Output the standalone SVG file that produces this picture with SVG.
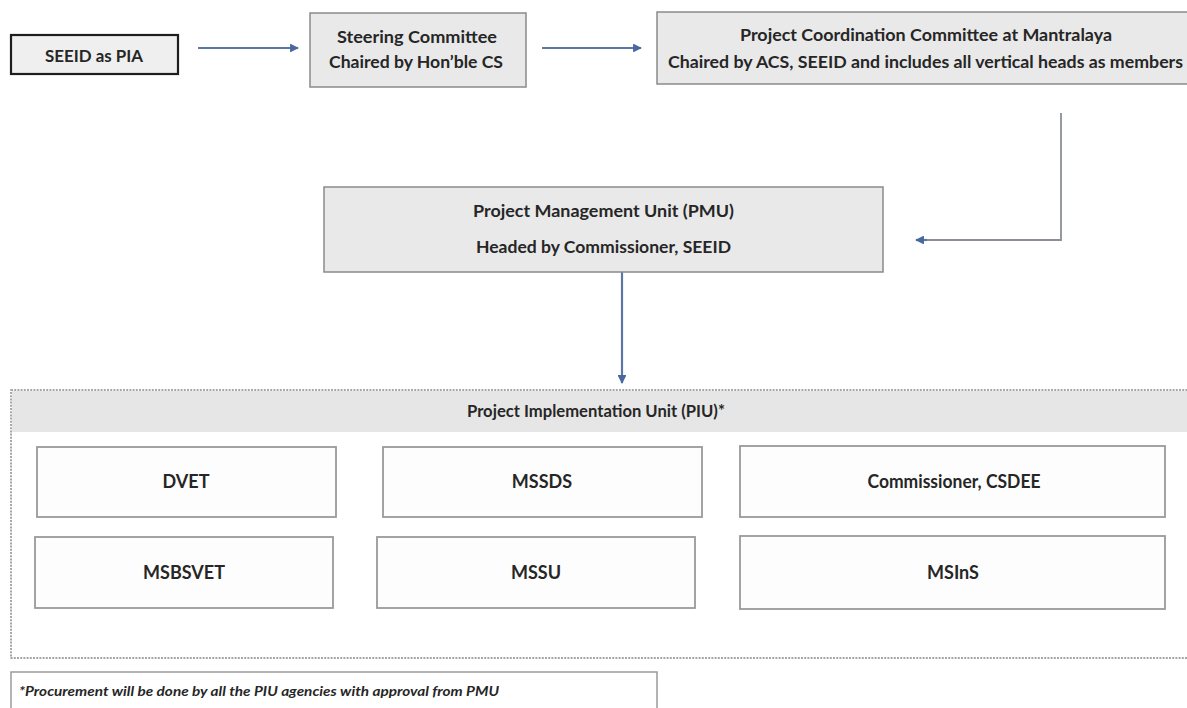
<svg xmlns="http://www.w3.org/2000/svg" width="1187" height="708" viewBox="0 0 1187 708">
<defs>
<style>
.t{font-family:Lato,"Open Sans","Liberation Sans",sans-serif;font-weight:bold;font-size:17px;fill:#262626;text-anchor:middle}
.b{font-size:18px}
.gbox{fill:#e9e9e9;stroke:#8a8a8a;stroke-width:1.5}
.wbox{fill:#fdfdfd;stroke:#9a9a9a;stroke-width:1.8}
.arr{fill:none;stroke:#5b77a6;stroke-width:2.2}
.fn{font-family:Lato,"Open Sans","Liberation Sans",sans-serif;font-weight:bold;font-style:italic;font-size:14px;fill:#262626}
</style>
<marker id="ah" viewBox="0 0 10 10" refX="9" refY="5" markerWidth="4" markerHeight="4" orient="auto" markerUnits="strokeWidth">
<path d="M0,0 L10,5 L0,10 z" fill="#4a67a0"/>
</marker>
</defs>
<rect width="1187" height="708" fill="#ffffff"/>

<g id="connectors">
<line class="arr" x1="198" y1="48" x2="298" y2="48" marker-end="url(#ah)"/>
<line class="arr" x1="542" y1="48" x2="641" y2="48" marker-end="url(#ah)"/>
<polyline fill="none" stroke="#8a8f99" stroke-width="1.8" points="1061,113 1061,240 925,240"/>
<line class="arr" x1="927" y1="240" x2="916" y2="240" marker-end="url(#ah)"/>
<line class="arr" x1="622" y1="272" x2="622" y2="383" marker-end="url(#ah)"/>
</g>

<g id="seeid">
<rect x="11" y="35" width="167" height="39" fill="#efefef" stroke="#1e1e1e" stroke-width="2.2"/>
<text class="t" x="94" y="62" textLength="98" lengthAdjust="spacingAndGlyphs">SEEID as PIA</text>
</g>

<g id="steering">
<rect class="gbox" x="310" y="13" width="216" height="74"/>
<text class="t" x="417" y="43" textLength="160" lengthAdjust="spacingAndGlyphs">Steering Committee</text>
<text class="t" x="416" y="68" textLength="174" lengthAdjust="spacingAndGlyphs">Chaired by Hon’ble CS</text>
</g>

<g id="pcc">
<rect class="gbox" x="657" y="12" width="545" height="72"/>
<text class="t" x="926" y="41" textLength="372" lengthAdjust="spacingAndGlyphs">Project Coordination Committee at Mantralaya</text>
<text class="t" x="925.5" y="68" textLength="515" lengthAdjust="spacingAndGlyphs">Chaired by ACS, SEEID and  includes all vertical heads as members</text>
</g>

<g id="pmu">
<rect class="gbox" x="324" y="187" width="559" height="85"/>
<text class="t" x="603.5" y="217" textLength="261" lengthAdjust="spacingAndGlyphs">Project Management Unit (PMU)</text>
<text class="t" x="603.5" y="253" textLength="255" lengthAdjust="spacingAndGlyphs">Headed by Commissioner, SEEID</text>
</g>

<g id="piu">
<rect x="11" y="390" width="1190" height="268" fill="#ffffff" stroke="#8a8a8a" stroke-width="1.5" stroke-dasharray="2,1.2"/>
<rect x="12" y="391" width="1188" height="41" fill="#e6e6e6"/>
<text class="t" x="596" y="417" textLength="258" lengthAdjust="spacingAndGlyphs">Project Implementation Unit (PIU)*</text>
</g>

<g id="dvet">
<rect class="wbox" x="37" y="447" width="299" height="70"/>
<text class="t b" x="186" y="488">DVET</text>
</g>
<g id="mssds">
<rect class="wbox" x="383" y="447" width="319" height="70"/>
<text class="t b" x="542" y="488">MSSDS</text>
</g>
<g id="csdee">
<rect class="wbox" x="740" y="446" width="425" height="71"/>
<text class="t b" x="954" y="488" textLength="173" lengthAdjust="spacingAndGlyphs">Commissioner, CSDEE</text>
</g>
<g id="msbsvet">
<rect class="wbox" x="35" y="537" width="298" height="71"/>
<text class="t b" x="184" y="579">MSBSVET</text>
</g>
<g id="mssu">
<rect class="wbox" x="377" y="537" width="318" height="71"/>
<text class="t b" x="536" y="579">MSSU</text>
</g>
<g id="msins">
<rect class="wbox" x="740" y="536" width="425" height="73"/>
<text class="t b" x="953" y="579">MSInS</text>
</g>

<g id="footnote">
<rect x="11" y="672" width="646" height="50" fill="#ffffff" stroke="#9a9a9a" stroke-width="1.5"/>
<text class="fn" x="19" y="696" textLength="480" lengthAdjust="spacingAndGlyphs">*Procurement will be done by all the PIU agencies with approval from PMU</text>
</g>
</svg>
